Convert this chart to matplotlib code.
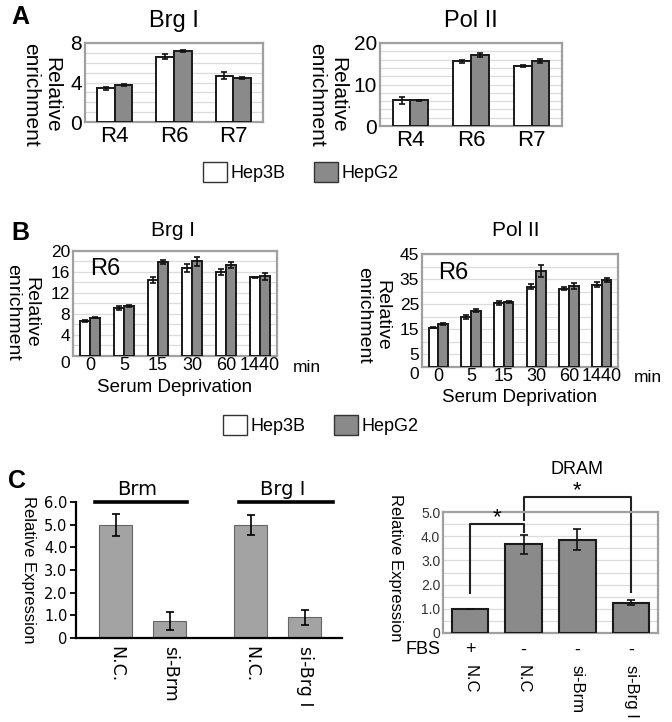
import matplotlib
matplotlib.use('Agg')
import matplotlib.pyplot as plt
import matplotlib.transforms as mtransforms
from matplotlib.patches import Patch
import numpy as np

W, H = 672, 722
plt.rcParams['font.family'] = ['Liberation Sans', 'DejaVu Sans']

# A: enrichment at regions R4 / R6 / R7
regions = ['R4', 'R6', 'R7']
a_brg_hep3b = [3.4, 6.6, 4.7]
a_brg_hep3b_err = [0.17, 0.25, 0.35]
a_brg_hepg2 = [3.75, 7.2, 4.5]
a_brg_hepg2_err = [0.1, 0.12, 0.1]
a_pol_hep3b = [6.2, 15.6, 14.4]
a_pol_hep3b_err = [0.8, 0.4, 0.25]
a_pol_hepg2 = [6.2, 17.2, 15.7]
a_pol_hepg2_err = [0.15, 0.5, 0.5]

# B: R6 enrichment during serum deprivation (min)
times = ['0', '5', '15', '30', '60', '1440']
b_brg_hep3b = [6.6, 9.1, 14.5, 16.8, 16.0, 15.0]
b_brg_hep3b_err = [0.2, 0.4, 0.55, 0.75, 0.5, 0.1]
b_brg_hepg2 = [7.3, 9.6, 17.9, 18.0, 17.4, 15.2]
b_brg_hepg2_err = [0.12, 0.2, 0.45, 0.9, 0.55, 0.7]
b_pol_hep3b = [15.7, 20.0, 25.3, 32.0, 31.2, 32.8]
b_pol_hep3b_err = [0.3, 0.9, 0.8, 0.9, 0.6, 1.0]
b_pol_hepg2 = [17.1, 22.5, 26.0, 38.3, 32.4, 34.6]
b_pol_hepg2_err = [0.4, 0.6, 0.4, 2.5, 1.2, 0.7]

# C: knockdown efficiency and DRAM expression
c_left_labels = ['N.C.', 'si-Brm', 'N.C.', 'si-Brg I']
c_left_groups = ['Brm', 'Brg I']
c_left_values = [5.0, 0.76, 5.0, 0.91]
c_left_err = [0.48, 0.4, 0.44, 0.32]
c_right_labels = ['N.C', 'N.C', 'si-Brm', 'si-Brg I']
c_right_fbs = ['+', '-', '-', '-']
c_right_values = [1.0, 3.66, 3.86, 1.25]
c_right_err = [0, 0.4, 0.45, 0.1]

cells = ['Hep3B', 'HepG2']
EDGE = '#1a1a1a'
GRAY = '#8a8a8a'

fig = plt.figure(figsize=(W / 100, H / 100), dpi=100)


def px_axes(l, t, r, b):
    return fig.add_axes([l / W, 1 - b / H, (r - l) / W, (b - t) / H])


def px_text(x, y, s, **kw):
    kw.setdefault('ha', 'center')
    kw.setdefault('va', 'center')
    return fig.text(x / W, 1 - y / H, s, **kw)


def grouped(ax, labels, v1, e1, v2, e2, width, ymax, yticks, grid_step, fs_x, fs_y):
    x = np.arange(len(labels))
    ekw = dict(ecolor='#111111', elinewidth=1.2, capsize=2.5, capthick=1.2)
    ax.bar(x - width / 2, v1, width, yerr=e1, color='white', edgecolor=EDGE,
           linewidth=1.4, error_kw=ekw, zorder=3)
    ax.bar(x + width / 2, v2, width, yerr=e2, color=GRAY, edgecolor=EDGE,
           linewidth=1.4, error_kw=ekw, zorder=3)
    ax.set_xlim(-0.5, len(labels) - 0.5)
    ax.set_ylim(0, ymax)
    ax.set_yticks(yticks)
    ax.set_yticks(np.arange(0, ymax + 0.01, grid_step), minor=True)
    ax.yaxis.grid(True, which='both', color='#dcdcdc', linewidth=0.9)
    ax.set_axisbelow(True)
    for s in ax.spines.values():
        s.set_color('#a0a0a0')
        s.set_linewidth(1.6)
    ax.tick_params(which='both', length=0)
    ax.tick_params(axis='y', labelsize=fs_y, pad=2)
    ax.set_xticks(x, labels)
    ax.tick_params(axis='x', labelsize=fs_x, pad=3)


# ---- panel A
ax = px_axes(85, 43, 263, 122)
grouped(ax, regions, a_brg_hep3b, a_brg_hep3b_err, a_brg_hepg2, a_brg_hepg2_err,
        0.3, 8, [0, 4, 8], 1, 16, 15)
ax = px_axes(380, 43, 562, 126)
grouped(ax, regions, a_pol_hep3b, a_pol_hep3b_err, a_pol_hepg2, a_pol_hepg2_err,
        0.29, 20, [0, 10, 20], 2, 16, 15)

px_text(20, 17, 'A', fontsize=18, fontweight='bold')
px_text(174, 21, 'Brg I', fontsize=17)
px_text(471, 21, 'Pol II', fontsize=17)
px_text(41, 95, 'Relative\nenrichment', fontsize=15, rotation=270, linespacing=1.1)
px_text(327, 95, 'Relative\nenrichment', fontsize=15, rotation=270, linespacing=1.1)

handles = [Patch(facecolor='white', edgecolor='#333333'), Patch(facecolor=GRAY, edgecolor='#333333')]
for cx, cy in [(301, 172), (321, 425)]:
    fig.legend(handles, cells, loc='center', bbox_to_anchor=(cx / W, 1 - cy / H),
               ncol=2, frameon=False, fontsize=13, handlelength=1.3, handleheight=1.3,
               handletextpad=0.2, columnspacing=1.6, borderaxespad=0)

# ---- panel B
for (l, t, r, b), v1, e1, v2, e2, ymax, yt, gs, title, tx in [
        ((73, 251, 277, 356), b_brg_hep3b, b_brg_hep3b_err, b_brg_hepg2, b_brg_hepg2_err,
         20, [0, 4, 8, 12, 16, 20], 2, 'Brg I', 173),
        ((422, 254, 618, 367), b_pol_hep3b, b_pol_hep3b_err, b_pol_hepg2, b_pol_hepg2_err,
         45, [0, 5, 15, 25, 35, 45], 5, 'Pol II', 516)]:
    ax = px_axes(l, t, r, b)
    grouped(ax, times, v1, e1, v2, e2, 0.3, ymax, yt, gs, 13, 12.5)
    ax.get_yticklabels()[0].set_va('top')
    ax.tick_params(axis='x', pad=1)
    ax.text(0.16, 0.83, 'R6', transform=ax.transAxes, fontsize=17, ha='center', va='center')
    px_text(tx, 230, title, fontsize=15)
    px_text(r + 30, b + 11, 'min', fontsize=12.5)
    px_text((l + r) / 2, b + 31, 'Serum Deprivation', fontsize=13.5)

px_text(20, 233, 'B', fontsize=18, fontweight='bold')
px_text(22, 312, 'Relative\nenrichment', fontsize=14, rotation=270, linespacing=1.1)
px_text(373, 315, 'Relative\nenrichment', fontsize=14, rotation=270, linespacing=1.1)

# ---- panel C left
ax = px_axes(76, 502, 342, 638)
xl = np.array([0, 1, 2.5, 3.5])
ax.bar(xl, c_left_values, 0.61, yerr=c_left_err, color='#a3a3a3', edgecolor='#666666',
       linewidth=0.8, error_kw=dict(ecolor='black', elinewidth=1.2, capsize=3, capthick=1.2))
ax.set_xlim(-0.74, 4.19)
ax.set_ylim(0, 6)
ax.set_yticks([0, 1, 2, 3, 4, 5, 6], ['0', '1.0', '2.0', '3.0', '4.0', '5.0', '6.0'],
              family='DejaVu Sans', fontsize=10.5)
ax.set_xticks(xl, c_left_labels, rotation=270, family='DejaVu Sans', fontsize=12.5,
              va='top', ha='center')
ax.tick_params(axis='x', length=0, pad=6)
ax.tick_params(axis='y', length=4, width=1.3, pad=2)
for s in ['top', 'right']:
    ax.spines[s].set_visible(False)
for s in ['left', 'bottom']:
    ax.spines[s].set_linewidth(1.6)
for name, (x0, x1) in zip(c_left_groups, [(-0.39, 1.31), (2.28, 4.02)]):
    ax.plot([x0, x1], [5.98, 5.98], color='black', lw=2.6, clip_on=False)
    ax.text((x0 + x1) / 2 - 0.06, 6.55, name, family='DejaVu Sans', fontsize=14,
            ha='center', va='center')

px_text(17, 481, 'C', fontsize=18, fontweight='bold')
px_text(28, 570, 'Relative Expression', fontsize=12, rotation=270)

# ---- panel C right
ax = px_axes(443, 512, 658, 633)
xr = np.arange(len(c_right_values))
ax.bar(xr, c_right_values, 0.68, yerr=c_right_err, color=GRAY, edgecolor=EDGE, linewidth=1.5,
       error_kw=dict(ecolor='#111111', elinewidth=1.2, capsize=3, capthick=1.2), zorder=3)
ax.set_xlim(-0.5, 3.5)
ax.set_ylim(0, 5)
ax.set_yticks([0, 1, 2, 3, 4, 5], ['0', '1.0', '2.0', '3.0', '4.0', '5.0'], fontsize=10,
              color='#333333')
ax.set_yticks(np.arange(0, 5.01, 0.5), minor=True)
ax.yaxis.grid(True, which='both', color='#dcdcdc', linewidth=0.9)
ax.set_axisbelow(True)
for s in ax.spines.values():
    s.set_color('#a0a0a0')
    s.set_linewidth(1.6)
ax.tick_params(which='both', length=0)
ax.tick_params(axis='y', pad=2)
ax.set_xticks(xr, c_right_labels, rotation=270, fontsize=12, va='top', ha='center')
ax.tick_params(axis='x', pad=23)
trans = mtransforms.blended_transform_factory(ax.transData, ax.transAxes)
for i, s in enumerate(c_right_fbs):
    ax.text(i, -0.14, s, transform=trans, fontsize=13, ha='center', va='center')
px_text(423, 650, 'FBS', fontsize=13)

bk = dict(color='#222222', lw=1.5, clip_on=False)
ax.plot([0, 0, 1, 1], [1.65, 4.5, 4.5, 4.2], **bk)
ax.plot([1, 1], [4.2, 4.08], color='#222222', lw=1.5, ls=(0, (1, 1)), clip_on=False)
ax.plot([1, 1, 3, 3], [4.65, 5.62, 5.62, 1.7], **bk)
ax.text(0.5, 4.78, '*', fontsize=16, ha='center', va='center')
ax.text(2.0, 5.88, '*', fontsize=16, ha='center', va='center')
ax.text(2.0, 6.75, 'DRAM', fontsize=13, ha='center', va='center', clip_on=False)
px_text(395, 568, 'Relative Expression', fontsize=12, rotation=270)

fig.savefig('out.png', dpi=100)
